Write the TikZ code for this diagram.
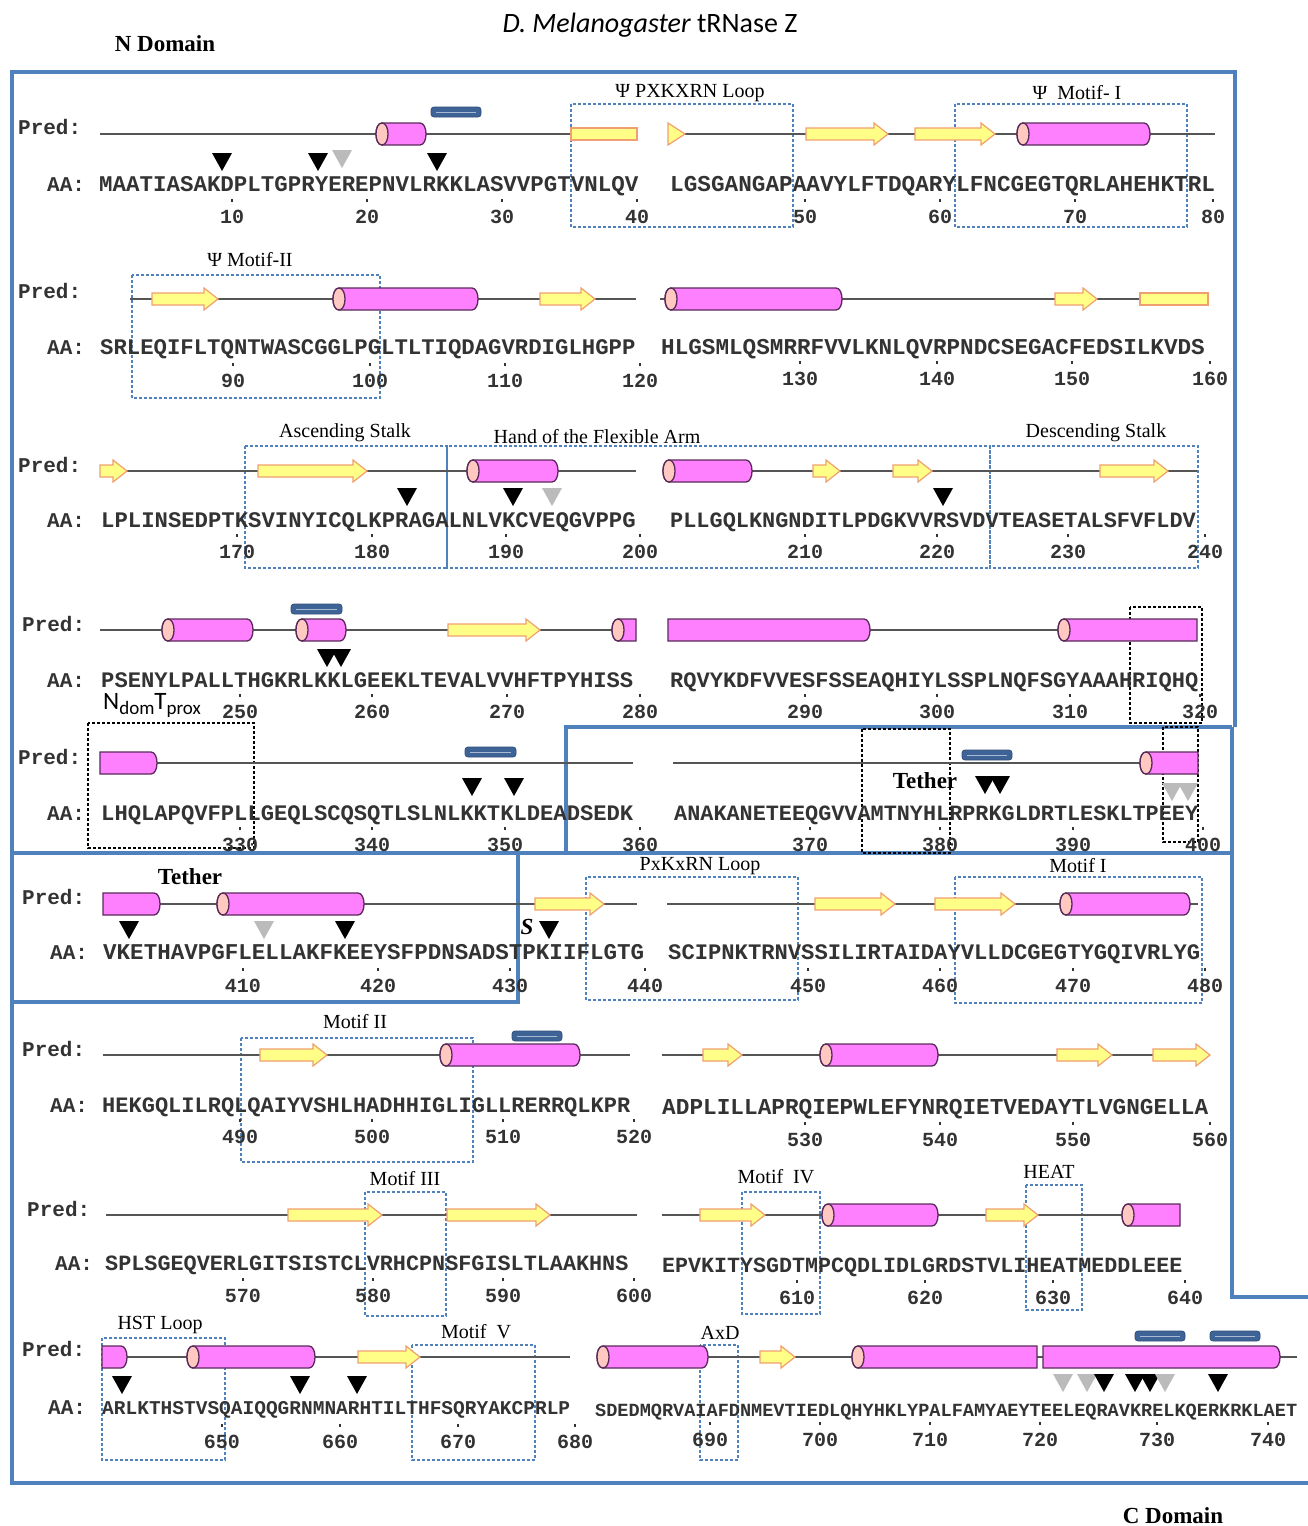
\documentclass[tikz,border=0pt]{standalone}
\usepackage{fontspec}
\setmainfont{Liberation Serif}
\newfontfamily\seqf{Liberation Mono}
\newfontfamily\calib{Carlito}
\definecolor{frameblue}{HTML}{4F81BD}
\definecolor{hxfill}{HTML}{FF80FF}
\definecolor{hxcapc}{HTML}{FFC8C0}
\definecolor{hxline}{HTML}{5A2A5A}
\definecolor{stfill}{HTML}{FFFF88}
\definecolor{stline}{HTML}{F0A070}
\definecolor{barblue}{HTML}{3E6497}
\definecolor{seqgray}{HTML}{333333}
\definecolor{trigray}{HTML}{BBBBBB}
\definecolor{predline}{HTML}{555555}
\tikzset{
 hxbody/.style={fill=hxfill, draw=hxline, line width=1.3pt},
 hxcap/.style={fill=hxcapc, draw=hxline, line width=1.3pt},
 stbody/.style={fill=stfill, draw=stline, line width=1.2pt},
 predln/.style={draw=predline, line width=1.6pt},
 fr/.style={draw=frameblue, line width=3.5pt},
 dbox/.style={draw=frameblue, line width=1.1pt, dash pattern=on 3pt off 2pt},
 kbox/.style={draw=black, line width=1.3pt, dash pattern=on 3pt off 2pt},
 lab/.style={font=\fontsize{20}{22}\selectfont, inner sep=0pt},
 monol/.style={font=\seqf\bfseries\fontsize{21}{22}\selectfont, text=seqgray, inner sep=0pt, anchor=base west},
 numn/.style={font=\seqf\bfseries\fontsize{20}{22}\selectfont, text=seqgray, inner sep=0pt},
 seqn/.style={text=seqgray, inner sep=0pt, anchor=base west},
 tlab/.style={font=\bfseries\fontsize{23}{25}\selectfont, inner sep=0pt},
}
\newcommand\hxCR[3]{%
 \draw[hxbody] ({#1+6},{#3-11}) -- ({#2-6},{#3-11}) .. controls ({#2+2},{#3-11}) and ({#2+2},{#3+11}) .. ({#2-6},{#3+11}) -- ({#1+6},{#3+11}) .. controls ({#1-2},{#3+11}) and ({#1-2},{#3-11}) .. ({#1+6},{#3-11}) -- cycle;
 \draw[hxcap] ({#1+6},{#3-11}) .. controls ({#1+14},{#3-11}) and ({#1+14},{#3+11}) .. ({#1+6},{#3+11}) .. controls ({#1-2},{#3+11}) and ({#1-2},{#3-11}) .. ({#1+6},{#3-11}) -- cycle;}
\newcommand\hxCF[3]{%
 \draw[hxbody] ({#1+6},{#3-11}) -- (#2,{#3-11}) -- (#2,{#3+11}) -- ({#1+6},{#3+11}) .. controls ({#1-2},{#3+11}) and ({#1-2},{#3-11}) .. ({#1+6},{#3-11}) -- cycle;
 \draw[hxcap] ({#1+6},{#3-11}) .. controls ({#1+14},{#3-11}) and ({#1+14},{#3+11}) .. ({#1+6},{#3+11}) .. controls ({#1-2},{#3+11}) and ({#1-2},{#3-11}) .. ({#1+6},{#3-11}) -- cycle;}
\newcommand\hxFR[3]{%
 \draw[hxbody] (#1,{#3-11}) -- ({#2-6},{#3-11}) .. controls ({#2+2},{#3-11}) and ({#2+2},{#3+11}) .. ({#2-6},{#3+11}) -- (#1,{#3+11}) -- cycle;}
\newcommand\starrow[3]{\draw[stbody] (#1,{#3-6}) -- ({#2-14},{#3-6}) -- ({#2-14},{#3-11}) -- (#2,#3) -- ({#2-14},{#3+11}) -- ({#2-14},{#3+6}) -- (#1,{#3+6}) -- cycle;}
\newcommand\stbar[3]{\draw[stbody] (#1,{#3-6}) rectangle (#2,{#3+6});}
\newcommand\sthead[3]{\draw[stbody] (#1,{#3-11}) -- (#2,#3) -- (#1,{#3+11}) -- cycle;}
\newcommand\bluebar[3]{\draw[fill=barblue, draw=barblue!80!black, rounded corners=3pt, line width=0.8pt] (#1,{#3-5}) rectangle (#2,{#3+5});
 \draw[barblue!45!white, line width=1pt] ({#1+5},#3) -- ({#2-5},#3);}
\newcommand\tridn[3]{\fill[#3] ({#1-10},{#2-9}) -- ({#1+10},{#2-9}) -- (#1,{#2+9}) -- cycle;}
\newcommand\seqline[5]{\node[seqn, font=\seqf\bfseries\fontsize{#4}{#4}\selectfont] (#1) at (#2,#3) {#5};}
\newcommand\numl[3]{\node[numn] at (#1,#2) {#3}; \draw[seqgray, line width=1.6pt] (#1,{#2-18}) -- (#1,{#2-15});}
\begin{document}
\begin{tikzpicture}[x=1pt,y=-1pt]
\useasboundingbox[fill=white] (0,0) rectangle (1308,1526);

% ---------- titles ----------
\node (title) at (650,25) {\calib\fontsize{28}{30}\selectfont\itshape D. Melanogaster \upshape tRNase Z};
\node[tlab] (nd) at (165,44) {N Domain};
\node[tlab] (cd) at (1173,1516) {C Domain};

% ---------- frames ----------
\draw[fr] (12,1483) -- (12,72) -- (1235,72) -- (1235,727);
\draw[fr] (1232,727) -- (566,727) -- (566,853);
\draw[fr] (12,853) -- (1232,853);
\draw[fr] (12,1002) -- (518,1002) -- (518,853);
\draw[fr] (1232,727) -- (1232,1297) -- (1308,1297);
\draw[fr] (10,1483) -- (1308,1483);

% ---------- dashed boxes ----------
\draw[dbox] (571,104) rectangle (793,227);
\draw[dbox] (955,104) rectangle (1187,227);
\draw[dbox] (132,275) rectangle (380,398);
\draw[dbox] (245,446) rectangle (447,568);
\draw[dbox] (447,446) rectangle (990,568);
\draw[dbox] (990,446) rectangle (1198,568);
\draw[dbox] (586,877) rectangle (798,1000);
\draw[dbox] (955,877) rectangle (1202,1003);
\draw[dbox] (241,1038) rectangle (473,1162);
\draw[dbox] (365,1192) rectangle (446,1316);
\draw[dbox] (742,1192) rectangle (820,1314);
\draw[dbox] (1026,1185) rectangle (1082,1310);
\draw[dbox] (102,1338) rectangle (225,1460);
\draw[dbox] (412,1345) rectangle (535,1460);
\draw[dbox] (700,1345) rectangle (738,1460);
\draw[kbox] (1130,607) rectangle (1202,723);
\draw[kbox] (88,723) rectangle (254,848);
\draw[kbox] (862,729) rectangle (950,853);
\draw[kbox] (1163,727) rectangle (1198,842);

% ---------- labels ----------
\node[lab] (l1) at (690,93) {Ψ PXKXRN Loop};
\node[lab] (l2) at (1077,93) {Ψ\ \ Motif- I};
\node[lab] (l3) at (250,260) {Ψ Motif-II};
\node[lab] (l4) at (345,433) {Ascending Stalk};
\node[lab] (l5) at (597,437) {Hand of the Flexible Arm};
\node[lab] (l6) at (1096,433) {Descending Stalk};
\node[lab] (l7) at (700,866) {PxKxRN Loop};
\node[lab] (l8) at (1078,866) {Motif I};
\node[lab] (l9) at (355,1022) {Motif II};
\node[lab] (l10) at (405,1179) {Motif III};
\node[lab] (l11) at (776,1177) {Motif\ \ IV};
\node[lab] (l12) at (1049,1172) {HEAT};
\node[lab] (l13) at (160,1325) {HST Loop};
\node[lab] (l14) at (476,1332) {Motif\ \ V};
\node[lab] (l15) at (720,1333) {AxD};
\node[inner sep=0pt] (ndt) at (152,706) {\calib\fontsize{25}{27}\selectfont N\raisebox{-5pt}{\fontsize{19}{20}\selectfont dom}T\raisebox{-5pt}{\fontsize{19}{20}\selectfont prox}};
\node[tlab] (t1) at (925,781) {Tether};
\node[tlab] (t2) at (190,877) {Tether};
\node[tlab] (s1) at (527,927) {\itshape S};

% ---------- row labels ----------
\foreach \px/\py/\ax/\ay [count=\i] in {18/134/47/191, 18/298/47/354, 18/472/47/527, 22/631/47/687, 18/764/47/820, 22/904/50/959, 22/1056/50/1112, 27/1216/55/1270, 22/1356/48/1414}{
 \node[monol] (pred\i) at (\px,\py) {Pred:};
 \node[monol] (aa\i) at (\ax,\ay) {AA:};
}

% ---------- row 1 ----------
\draw[predln] (100,134) -- (637,134); \draw[predln] (670,134) -- (1215,134);
\bluebar{431}{481}{112}
\hxCR{376}{426}{134}
\stbar{571}{637}{134}
\sthead{668}{685}{134}
\starrow{806}{888}{134}
\starrow{915}{995}{134}
\hxCR{1017}{1150}{134}
\tridn{222}{162}{black}\tridn{318}{162}{black}\tridn{342}{159}{trigray}\tridn{437}{162}{black}

% ---------- row 2 ----------
\draw[predln] (130,299) -- (636,299); \draw[predln] (660,299) -- (1208,299);
\starrow{152}{218}{299}
\hxCR{333}{478}{299}
\starrow{540}{595}{299}
\hxCR{665}{842}{299}
\starrow{1055}{1097}{299}
\stbar{1140}{1208}{299}

% ---------- row 3 ----------
\draw[predln] (100,471) -- (636,471); \draw[predln] (665,471) -- (1197,471);
\starrow{100}{127}{471}
\starrow{258}{367}{471}
\hxCR{467}{558}{471}
\hxCR{663}{752}{471}
\starrow{813}{840}{471}
\starrow{893}{932}{471}
\starrow{1100}{1168}{471}
\tridn{407}{497}{black}\tridn{513}{497}{black}\tridn{552}{497}{trigray}\tridn{943}{497}{black}

% ---------- row 4 ----------
\draw[predln] (100,630) -- (636,630); \draw[predln] (870,630) -- (1060,630);
\hxCR{162}{253}{630}
\bluebar{291}{342}{609}
\hxCR{296}{346}{630}
\starrow{448}{540}{630}
\hxCF{612}{636}{630}
\hxFR{668}{870}{630}
\hxCF{1058}{1197}{630}
\tridn{327}{658}{black}\tridn{341}{658}{black}

% ---------- row 5 ----------
\draw[predln] (100,763) -- (633,763); \draw[predln] (673,763) -- (1198,763);
\hxFR{100}{157}{763}
\bluebar{465}{516}{752}
\tridn{472}{787}{black}\tridn{514}{787}{black}
\bluebar{962}{1012}{755}
\tridn{985}{785}{black}\tridn{1000}{785}{black}
\hxCF{1140}{1198}{763}
\tridn{1172}{792}{trigray}\tridn{1188}{792}{trigray}

% ---------- row 6 ----------
\draw[predln] (105,904) -- (637,904); \draw[predln] (667,904) -- (1198,904);
\hxFR{103}{160}{904}
\hxCR{217}{364}{904}
\starrow{535}{604}{904}
\starrow{815}{895}{904}
\starrow{935}{1015}{904}
\hxCR{1060}{1190}{904}
\tridn{129}{930}{black}\tridn{264}{930}{trigray}\tridn{345}{930}{black}\tridn{549}{930}{black}

% ---------- row 7 ----------
\draw[predln] (103,1055) -- (630,1055); \draw[predln] (662,1055) -- (1210,1055);
\starrow{260}{327}{1055}
\hxCR{440}{580}{1055}
\bluebar{512}{562}{1036}
\starrow{703}{742}{1055}
\hxCR{820}{938}{1055}
\starrow{1057}{1112}{1055}
\starrow{1153}{1210}{1055}

% ---------- row 8 ----------
\draw[predln] (106,1215) -- (637,1215); \draw[predln] (662,1215) -- (1180,1215);
\starrow{288}{382}{1215}
\starrow{447}{550}{1215}
\starrow{700}{765}{1215}
\hxCR{822}{938}{1215}
\starrow{986}{1038}{1215}
\hxCF{1122}{1180}{1215}

% ---------- row 9 ----------
\draw[predln] (102,1357) -- (570,1357); \draw[predln] (597,1357) -- (1297,1357);
\hxFR{102}{127}{1357}
\hxCR{187}{315}{1357}
\starrow{358}{420}{1357}
\hxCR{597}{708}{1357}
\starrow{760}{795}{1357}
\hxCF{852}{1037}{1357}
\hxFR{1043}{1280}{1357}
\bluebar{1135}{1185}{1336}\bluebar{1210}{1260}{1336}
\tridn{122}{1385}{black}\tridn{300}{1385}{black}\tridn{357}{1385}{black}
\tridn{1063}{1383}{trigray}\tridn{1087}{1383}{trigray}\tridn{1104}{1383}{black}\tridn{1135}{1383}{black}\tridn{1150}{1383}{black}\tridn{1165}{1383}{trigray}\tridn{1218}{1383}{black}

% ---------- sequences ----------
\seqline{s1a}{99}{191}{22.46}{MAATIASAKDPLTGPRYEREPNVLRKKLASVVPGTVNLQV}
\seqline{s1b}{670}{191}{22.7}{LGSGANGAPAAVYLFTDQARYLFNCGEGTQRLAHEHKTRL}
\seqline{s2a}{100}{354}{22.3}{SRLEQIFLTQNTWASCGGLPGLTLTIQDAGVRDIGLHGPP}
\seqline{s2b}{661}{354}{22.65}{HLGSMLQSMRRFVVLKNLQVRPNDCSEGACFEDSILKVDS}
\seqline{s3a}{101}{527}{22.27}{LPLINSEDPTKSVINYICQLKPRAGALNLVKCVEQGVPPG}
\seqline{s3b}{670}{527}{21.9}{PLLGQLKNGNDITLPDGKVVRSVDVTEASETALSFVFLDV}
\seqline{s4a}{101}{687}{22.17}{PSENYLPALLTHGKRLKKLGEEKLTEVALVVHFTPYHISS}
\seqline{s4b}{670}{687}{22.0}{RQVYKDFVVESFSSEAQHIYLSSPLNQFSGYAAAHRIQHQ}
\seqline{s5a}{101}{820}{22.17}{LHQLAPQVFPLLGEQLSCQSQTLSLNLKKTKLDEADSEDK}
\seqline{s5b}{674}{820}{21.83}{ANAKANETEEQGVVAMTNYHLRPRKGLDRTLESKLTPEEY}
\seqline{s6a}{103}{959}{22.54}{VKETHAVPGFLELLAKFKEEYSFPDNSADSTPKIIFLGTG}
\seqline{s6b}{668}{959}{22.17}{SCIPNKTRNVSSILIRTAIDAYVLLDCGEGTYGQIVRLYG}
\seqline{s7a}{102}{1112}{22.0}{HEKGQLILRQLQAIYVSHLHADHHIGLIGLLRERRQLKPR}
\seqline{s7b}{662}{1114}{22.75}{ADPLILLAPRQIEPWLEFYNRQIETVEDAYTLVGNGELLA}
\seqline{s8a}{105}{1270}{21.8}{SPLSGEQVERLGITSISTCLVRHCPNSFGISLTLAAKHNS}
\seqline{s8b}{662}{1272}{21.67}{EPVKITYSGDTMPCQDLIDLGRDSTVLIHEATMEDDLEEE}
\seqline{s9a}{102}{1414}{19.5}{ARLKTHSTVSQAIQQGRNMNARHTILTHFSQRYAKCPRLP}
\seqline{s9b}{595}{1416}{18.57}{SDEDMQRVAIAFDNMEVTIEDLQHYHKLYPALFAMYAEYTEELEQRAVKRELKQERKRKLAET}

% ---------- numbers ----------
\foreach \x/\n in {232/10,367/20,502/30,637/40,805/50,940/60,1075/70,1213/80}{\numl{\x}{217}{\n}}
\foreach \x/\n in {233/90,370/100,505/110,640/120}{\numl{\x}{381}{\n}}
\foreach \x/\n in {800/130,937/140,1072/150,1210/160}{\numl{\x}{379}{\n}}
\foreach \x/\n in {237/170,372/180,506/190,640/200,805/210,937/220,1068/230,1205/240}{\numl{\x}{552}{\n}}
\foreach \x/\n in {240/250,372/260,507/270,640/280,805/290,937/300,1070/310,1200/320}{\numl{\x}{712}{\n}}
\foreach \x/\n in {240/330,372/340,505/350,640/360,810/370,940/380,1073/390,1203/400}{\numl{\x}{845}{\n}}
\foreach \x/\n in {243/410,378/420,510/430,645/440,808/450,940/460,1073/470,1205/480}{\numl{\x}{986}{\n}}
\foreach \x/\n in {240/490,372/500,503/510,634/520}{\numl{\x}{1137}{\n}}
\foreach \x/\n in {805/530,940/540,1073/550,1210/560}{\numl{\x}{1140}{\n}}
\foreach \x/\n in {243/570,373/580,503/590,634/600}{\numl{\x}{1296}{\n}}
\foreach \x/\n in {797/610,925/620,1053/630,1185/640}{\numl{\x}{1298}{\n}}
\foreach \x/\n in {222/650,340/660,458/670,575/680}{\numl{\x}{1442}{\n}}
\foreach \x/\n in {710/690,820/700,930/710,1040/720,1157/730,1268/740}{\numl{\x}{1440}{\n}}
\end{tikzpicture}
\end{document}
